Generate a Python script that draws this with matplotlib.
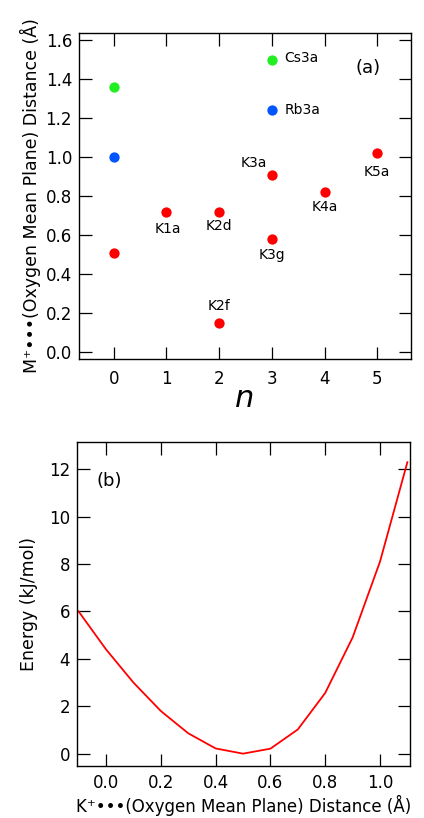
import matplotlib
matplotlib.use("Agg")
import matplotlib.pyplot as plt

plt.rcParams['font.family'] = ['DejaVu Sans']

# Panel (a) data
red_n = [0, 1, 2, 2, 3, 3, 4, 5]
red_d = [0.51, 0.72, 0.72, 0.15, 0.91, 0.58, 0.82, 1.02]
blue_n = [0, 3]
blue_d = [1.00, 1.24]
green_n = [0, 3]
green_d = [1.36, 1.50]

labels = ["K1a", "K2d", "K2f", "K3a", "K3g", "K4a", "K5a", "Rb3a", "Cs3a"]
label_x = [1.02, 2.0, 2.0, 2.66, 3.0, 4.0, 5.0, 3.25, 3.23]
label_y = [0.63, 0.648, 0.236, 0.97, 0.497, 0.743, 0.925, 1.24, 1.51]
label_ha = ["center"] * 7 + ["left", "left"]

# Panel (b) data
dist = [-0.1, 0.0, 0.1, 0.2, 0.3, 0.4, 0.5, 0.6, 0.7, 0.8, 0.9, 1.0, 1.1]
energy = [6.0, 4.4, 3.0, 1.8, 0.86, 0.22, 0.0, 0.21, 1.02, 2.56, 4.9, 8.1, 12.3]

fig = plt.figure(figsize=(4.24, 8.18), dpi=100)

def style(ax, xpad, ypad):
    ax.tick_params(direction='in', length=9, width=0.9, top=True, right=True,
                   labelsize=12, colors='black')
    ax.tick_params(axis='x', pad=xpad)
    ax.tick_params(axis='y', pad=ypad)
    for s in ax.spines.values():
        s.set_linewidth(1.0)

ax1 = fig.add_axes([0.1863, 0.5611, 0.783, 0.3985])
ax1.scatter(red_n, red_d, s=55, color='#ff0000', zorder=3, linewidths=0)
ax1.scatter(blue_n, blue_d, s=55, color='#0055ff', zorder=3, linewidths=0)
ax1.scatter(green_n, green_d, s=55, color='#22ee22', zorder=3, linewidths=0)
for t, x, y, ha in zip(labels, label_x, label_y, label_ha):
    ax1.text(x, y, t, ha=ha, va='center', fontsize=10)
ax1.text(4.83, 1.456, "(a)", ha='center', va='center', fontsize=13)
ax1.set_xlim(-0.66, 5.64)
ax1.set_ylim(-0.036, 1.636)
ax1.set_xticks([0, 1, 2, 3, 4, 5])
ax1.set_yticks([0.0, 0.2, 0.4, 0.6, 0.8, 1.0, 1.2, 1.4, 1.6])
ax1.set_yticklabels([f"{v:.1f}" for v in ax1.get_yticks()])
style(ax1, 8, 5)
ax1.set_xlabel("n", fontsize=22, style='italic', labelpad=-3)
ax1.set_ylabel("M\u207a\u2022\u2022\u2022(Oxygen Mean Plane) Distance (\u00c5)", fontsize=12.5, labelpad=3)

ax2 = fig.add_axes([0.1816, 0.0636, 0.785, 0.396])
ax2.plot(dist, energy, color='#ff0000', linewidth=1.3)
ax2.text(0.01, 11.5, "(b)", ha='center', va='center', fontsize=13)
ax2.set_xlim(-0.106, 1.109)
ax2.set_ylim(-0.52, 13.15)
ax2.set_xticks([0.0, 0.2, 0.4, 0.6, 0.8, 1.0])
ax2.set_xticklabels([f"{v:.1f}" for v in ax2.get_xticks()])
ax2.set_yticks([0, 2, 4, 6, 8, 10, 12])
style(ax2, 6, 5)
ax2.set_xlabel("K\u207a\u2022\u2022\u2022(Oxygen Mean Plane) Distance (\u00c5)", fontsize=12, labelpad=2)
ax2.set_ylabel("Energy (kJ/mol)", fontsize=12.5, labelpad=8)

fig.savefig("out.png", dpi=100)
